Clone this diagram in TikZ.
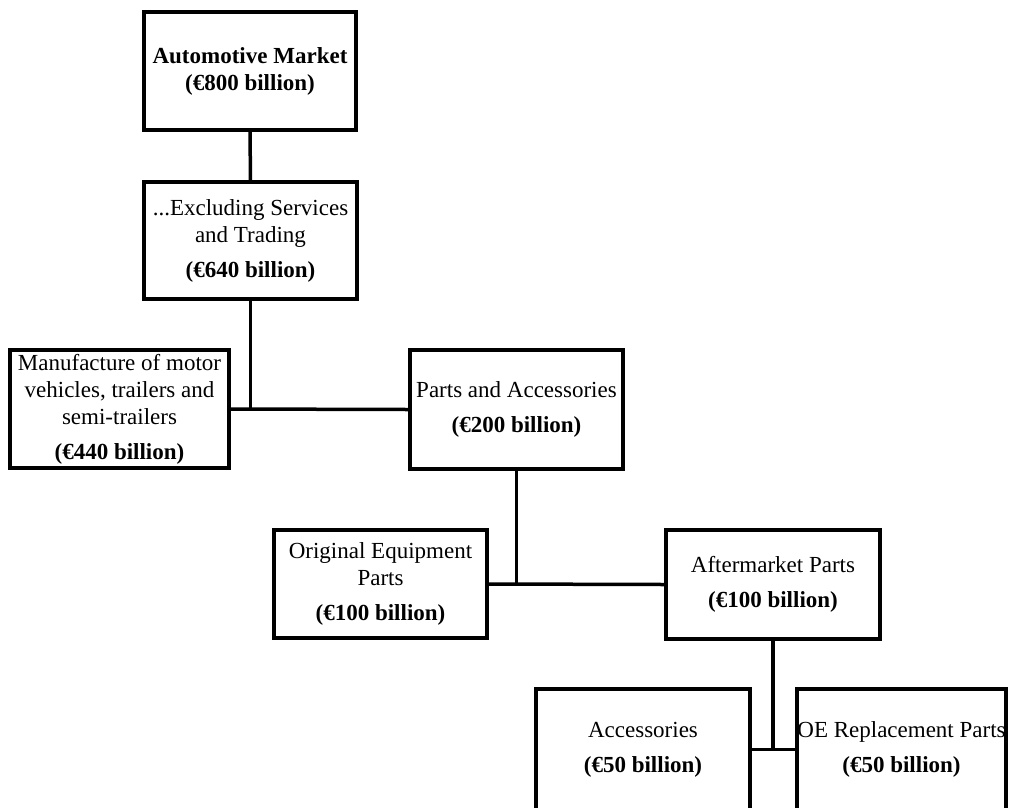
\documentclass[tikz,border=0pt]{standalone}
\usepackage{fontspec}
\setmainfont{Liberation Serif}
\begin{document}
\begin{tikzpicture}[x=1pt,y=-1pt,
	box/.style={draw,line width=3.5pt,align=center,inner sep=0pt,
		font=\fontsize{23}{27}\selectfont},
	link/.style={line width=3.5pt}]
	\useasboundingbox (0,0) rectangle (1010,807);
	\node[box,minimum width=212pt,minimum height=118pt] (am) at (250,71)
		{\textbf{Automotive Market}\\\textbf{(€800 billion)}};
	\node[box,minimum width=213pt,minimum height=117pt] (ex) at (250.5,240.5)
		{...Excluding Services\\and Trading\\[8pt]\textbf{(€640 billion)}};
	\node[box,minimum width=219pt,minimum height=118pt] (mf) at (119.5,409)
		{Manufacture of motor\\vehicles, trailers and\\semi-trailers\\[8pt]\textbf{(€440 billion)}};
	\node[box,minimum width=213pt,minimum height=119pt] (pa) at (516.5,409.5)
		{Parts and Accessories\\[8pt]\textbf{(€200 billion)}};
	\node[box,minimum width=213pt,minimum height=108pt] (oe) at (380.5,584)
		{Original Equipment\\Parts\\[8pt]\textbf{(€100 billion)}};
	\node[box,minimum width=214pt,minimum height=109pt] (af) at (773,584.5)
		{Aftermarket Parts\\[8pt]\textbf{(€100 billion)}};
	\node[box,minimum width=214pt,minimum height=121pt] (ac) at (643,749.5)
		{Accessories\\[8pt]\textbf{(€50 billion)}};
	\node[box,minimum width=209pt,minimum height=121pt] (oer) at (901.5,749.5)
		{OE Replacement Parts\\[8pt]\textbf{(€50 billion)}};
	\draw[link] (am.south) -- (ex.north);
	\draw[link] (ex.south) -- (ex.south |- mf.east);
	\draw[link] (mf.east) -- (pa.west);
	\draw[link] (pa.south) -- (pa.south |- oe.east);
	\draw[link] (oe.east) -- (af.west);
	\draw[link] (af.south) -- (af.south |- ac.east);
	\draw[link] (ac.east) -- (oer.west);
\end{tikzpicture}
\end{document}
